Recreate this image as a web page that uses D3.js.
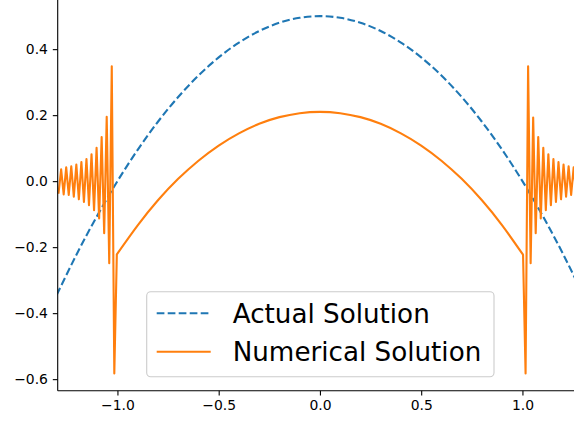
<!DOCTYPE html>
<html>
<head>
<meta charset="utf-8">
<script src="https://cdn.jsdelivr.net/npm/d3@7"></script>
<style>
  html, body { margin: 0; padding: 0; background: #fff; }
  svg { display: block; font-family: "DejaVu Sans", sans-serif; }
</style>
</head>
<body>
<svg id="chart" width="574" height="421"></svg>
<script>
// ---------- data ----------
const seriesNames = ["Actual Solution", "Numerical Solution"];
const seriesColors = ["#1f77b4", "#ff7f0e"];

const actualX = [-1.3, -1.2, -1.1, -1.0, -0.9, -0.8, -0.7, -0.6, -0.5, -0.4, -0.3, -0.2, -0.1, 0.0,
                 0.1, 0.2, 0.3, 0.4, 0.5, 0.6, 0.7, 0.8, 0.9, 1.0, 1.1, 1.2, 1.3];
const actualY = [-0.345, -0.220, -0.105, 0.0, 0.095, 0.180, 0.255, 0.320, 0.375, 0.420, 0.455, 0.480, 0.495, 0.500,
                 0.495, 0.480, 0.455, 0.420, 0.375, 0.320, 0.255, 0.180, 0.095, 0.0, -0.105, -0.220, -0.345];

// oscillating left part, smooth middle part, oscillating right part
const numLeftX = [-1.2905, -1.278, -1.2655, -1.253, -1.2405, -1.228, -1.2155, -1.203, -1.1905, -1.178, -1.1655, -1.153,
  -1.1405, -1.128, -1.1155, -1.103, -1.0905, -1.078, -1.0655, -1.053, -1.0405, -1.028, -1.0155, -1.003];
const numLeftY = [-0.035, 0.036, -0.040, 0.042, -0.042, 0.045, -0.047, 0.050, -0.055, 0.058, -0.063, 0.067,
  -0.073, 0.081, -0.088, 0.101, -0.113, 0.134, -0.158, 0.195, -0.249, 0.348, -0.583, -0.222];
const numMidX = [-1.003, -0.9, -0.8, -0.7, -0.6, -0.5, -0.4, -0.3, -0.2, -0.1, 0.0, 0.1, 0.2, 0.3, 0.4, 0.5, 0.6, 0.7, 0.8, 0.9, 1.003];
const numMidY = [-0.222, -0.134, -0.058, 0.007, 0.062, 0.108, 0.145, 0.174, 0.194, 0.206, 0.210, 0.206, 0.194, 0.174, 0.145, 0.108, 0.062, 0.007, -0.058, -0.134, -0.223];
const numRightX = [1.003, 1.0155, 1.028, 1.0405, 1.053, 1.0655, 1.078, 1.0905, 1.103, 1.1155, 1.128, 1.1405, 1.153,
  1.1655, 1.178, 1.1905, 1.203, 1.2155, 1.228, 1.2405, 1.253, 1.2655, 1.278, 1.2905];
const numRightY = [-0.223, -0.583, 0.348, -0.249, 0.193, -0.158, 0.134, -0.113, 0.101, -0.088, 0.081, -0.073, 0.067,
  -0.063, 0.058, -0.055, 0.050, -0.047, 0.045, -0.042, 0.042, -0.040, 0.036, -0.035];

const xTicks = [-1.0, -0.5, 0.0, 0.5, 1.0];
const yTicks = [-0.6, -0.4, -0.2, 0.0, 0.2, 0.4];

// ---------- layout ----------
const svg = d3.select("#chart");
const left = 57.7, bottom = 390.7;
const x = d3.scaleLinear().domain([-1.295, 1.3]).range([left, left + 2.595 * 202.5]);
const y = d3.scaleLinear().domain([-0.635, 0.6]).range([bottom, bottom - 1.235 * 330]);

svg.append("defs").append("clipPath").attr("id", "plotclip")
  .append("rect").attr("x", left).attr("y", -20).attr("width", 600).attr("height", bottom + 20);

const plot = svg.append("g").attr("clip-path", "url(#plotclip)");
const zip = (a, b) => a.map((v, i) => [v, b[i]]);
const lineLin = d3.line().x(d => x(d[0])).y(d => y(d[1]));
const lineSmooth = d3.line().x(d => x(d[0])).y(d => y(d[1])).curve(d3.curveNatural);

plot.append("path").datum(zip(actualX, actualY))
  .attr("d", lineSmooth).attr("fill", "none")
  .attr("stroke", seriesColors[0]).attr("stroke-width", 2.1)
  .attr("stroke-dasharray", "7.7,3.3").attr("stroke-linecap", "butt")
  .attr("stroke-linejoin", "round");

const dNum = lineLin(zip(numLeftX, numLeftY)) +
  lineSmooth(zip(numMidX, numMidY)).replace(/^M/, "L") +
  lineLin(zip(numRightX, numRightY)).replace(/^M/, "L");

plot.append("path").attr("d", dNum).attr("fill", "none")
  .attr("stroke", seriesColors[1]).attr("stroke-width", 2.1)
  .attr("stroke-linecap", "square").attr("stroke-linejoin", "round");

// ---------- axes ----------
const fmt = d3.format(".1f");
const xAxis = svg.append("g").attr("transform", `translate(0,${bottom})`)
  .call(d3.axisBottom(x).tickValues(xTicks).tickFormat(fmt).tickSize(4.9).tickPadding(4.9));
const yAxis = svg.append("g").attr("transform", `translate(${left},0)`)
  .call(d3.axisLeft(y).tickValues(yTicks).tickFormat(fmt).tickSize(4.9).tickPadding(4.9));

[xAxis, yAxis].forEach(a => {
  a.selectAll("text").attr("font-family", "DejaVu Sans").attr("font-size", 13.9).attr("fill", "#000");
  a.selectAll("line").attr("stroke", "#000").attr("stroke-width", 1.1);
  a.select(".domain").attr("stroke", "#000").attr("stroke-width", 1.1);
});
yAxis.select(".domain").attr("d", `M0,${bottom}V-5`);
xAxis.select(".domain").attr("d", `M${left},0H${x(1.3)}`);

// ---------- legend ----------
const lg = svg.append("g");
lg.append("rect").attr("x", 146.7).attr("y", 291.7).attr("width", 347.3).attr("height", 85)
  .attr("rx", 4).attr("ry", 4)
  .attr("fill", "#fff").attr("fill-opacity", 0.8)
  .attr("stroke", "#cccccc").attr("stroke-width", 1.1);

const rows = [313.3, 351.7];
seriesNames.forEach((name, i) => {
  const l = lg.append("line").attr("x1", 156.7).attr("x2", 210.7)
    .attr("y1", rows[i]).attr("y2", rows[i])
    .attr("stroke", seriesColors[i]).attr("stroke-width", 2.1);
  if (i === 0) l.attr("stroke-dasharray", "7.7,3.3");
  lg.append("text").attr("x", 232.7).attr("y", rows[i] + 9.3)
    .attr("font-family", "DejaVu Sans").attr("font-size", 26.2).attr("fill", "#000")
    .text(name);
});
</script>
</body>
</html>
